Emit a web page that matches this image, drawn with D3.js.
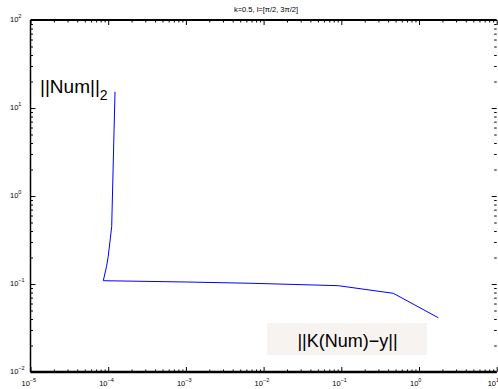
<!DOCTYPE html>
<html>
<head>
<meta charset="utf-8">
<script src="https://cdn.jsdelivr.net/npm/d3@7"></script>
<style>
  body { margin: 0; background: #fff; }
  text { font-family: "Liberation Sans", Arial, sans-serif; }
</style>
</head>
<body>
<script>
// L-curve data: residual norm (x) vs solution norm (y)
var residualNorm = [1.224e-4, 1.164e-4, 1.109e-4, 1.0e-4, 9.5e-5, 8.65e-5, 1.0e-3, 6.68e-3, 0.0914, 0.467, 1.77];
var solutionNorm = [15.3, 2.56, 0.448, 0.204, 0.157, 0.109, 0.1054, 0.102, 0.0957, 0.0784, 0.0414];
var xTickExps = [-5, -4, -3, -2, -1, 0, 1];
var yTickExps = [-2, -1, 0, 1, 2];
var title = 'k=0.5, l=[\u03c0/2, 3\u03c0/2]';

var W = 498, H = 389;
var pLeft = 30.5, pRight = 496.7, pTop = 20, pBottom = 372;

var svg = d3.select('body').append('svg')
    .attr('width', W)
    .attr('height', H);

var x = d3.scaleLog().domain([1e-5, 10]).range([pLeft, pRight]);
var y = d3.scaleLog().domain([1e-2, 1e2]).range([pBottom, pTop]);

// minor tick values
function minors(exps) {
    var out = [];
    for (var i = 0; i < exps.length - 1; i++)
        for (var m = 2; m < 10; m++) out.push(m * Math.pow(10, exps[i]));
    return out;
}
var xMajor = xTickExps.map(function(e) { return Math.pow(10, e); });
var yMajor = yTickExps.map(function(e) { return Math.pow(10, e); });

// Ticks (inward) on all four sides
function tickAxis(axisFn, scale, vals, size, transform) {
    svg.append('g')
        .attr('transform', transform)
        .call(axisFn(scale).tickValues(vals).tickSize(size).tickFormat(''))
        .call(function(g) {
            g.select('.domain').remove();
            g.selectAll('line').attr('stroke', '#000').attr('stroke-width', 1);
        });
}
tickAxis(d3.axisBottom, x, xMajor, -5, 'translate(0,' + pBottom + ')');
tickAxis(d3.axisBottom, x, minors(xTickExps), -2.5, 'translate(0,' + pBottom + ')');
tickAxis(d3.axisTop, x, xMajor, -5, 'translate(0,' + pTop + ')');
tickAxis(d3.axisTop, x, minors(xTickExps), -2.5, 'translate(0,' + pTop + ')');
tickAxis(d3.axisLeft, y, yMajor, -5, 'translate(' + pLeft + ',0)');
tickAxis(d3.axisLeft, y, minors(yTickExps), -2.5, 'translate(' + pLeft + ',0)');
tickAxis(d3.axisRight, y, yMajor, -5, 'translate(' + pRight + ',0)');
tickAxis(d3.axisRight, y, minors(yTickExps), -2.5, 'translate(' + pRight + ',0)');

// Box (right edge falls off the picture)
svg.append('line').attr('x1', pLeft).attr('x2', pRight).attr('y1', pTop).attr('y2', pTop)
    .attr('stroke', '#000').attr('stroke-width', 2);
svg.append('line').attr('x1', pLeft).attr('x2', pRight).attr('y1', pBottom).attr('y2', pBottom)
    .attr('stroke', '#000').attr('stroke-width', 2.5);
svg.append('line').attr('x1', pLeft).attr('x2', pLeft).attr('y1', pTop).attr('y2', pBottom)
    .attr('stroke', '#000').attr('stroke-width', 1.5);

// Tick labels: 10 with superscript exponent
function expLabel(sel, e) {
    sel.append('tspan').text('10');
    sel.append('tspan').attr('dy', -4).attr('font-size', 5.5)
        .text(e < 0 ? '\u2212' + (-e) : e);
}
svg.append('g').selectAll('text')
    .data(xTickExps)
    .enter().append('text')
    .attr('x', function(e) { return x(Math.pow(10, e)) - 9; })
    .attr('y', pBottom + 14)
    .attr('font-size', 7.5)
    .each(function(e) { expLabel(d3.select(this), e); });

svg.append('g').selectAll('text')
    .data(yTickExps)
    .enter().append('text')
    .attr('x', 10)
    .attr('y', function(e) { return y(Math.pow(10, e)) + 2; })
    .attr('font-size', 7.5)
    .each(function(e) { expLabel(d3.select(this), e); });

// Title
svg.append('text')
    .attr('x', 266)
    .attr('y', 12)
    .attr('text-anchor', 'middle')
    .attr('font-size', 7.5)
    .text(title);

// The curve
var line = d3.line()
    .x(function(d, i) { return x(residualNorm[i]); })
    .y(function(d, i) { return y(solutionNorm[i]); });

svg.append('path')
    .datum(residualNorm)
    .attr('d', line)
    .attr('fill', 'none')
    .attr('stroke', '#0000ff')
    .attr('stroke-width', 1);

// Annotations
var num = svg.append('text')
    .attr('x', 40)
    .attr('y', 93)
    .attr('font-size', 19);
num.append('tspan').text('||Num||');
num.append('tspan').attr('dy', 7).attr('font-size', 14).text('2');

svg.append('rect')
    .attr('x', 267).attr('y', 323)
    .attr('width', 160).attr('height', 32)
    .attr('fill', '#f7f3f1');
svg.append('text')
    .attr('x', 347.5)
    .attr('y', 347)
    .attr('text-anchor', 'middle')
    .attr('font-size', 18)
    .text('||K(Num)\u2212y||');
</script>
</body>
</html>
